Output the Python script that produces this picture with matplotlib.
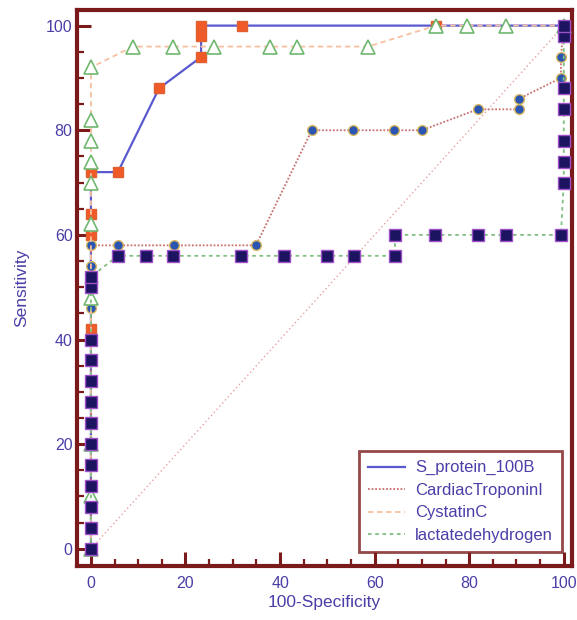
import matplotlib.pyplot as plt

plt.rcParams['font.family'] = ['Liberation Sans', 'DejaVu Sans']

# S_protein_100B
s100_x = [0, 0, 0, 0, 0, 5.7, 14.4, 23.3, 23.3, 23.3, 31.9, 73, 100]
s100_y = [0, 42, 60, 64, 72, 72, 88, 94, 98, 100, 100, 100, 100]

# CardiacTroponinI
ctni_x = [0, 0, 0, 0, 0, 5.7, 17.5, 34.9, 46.7, 55.4, 64.2, 70, 81.8, 90.5, 90.5, 99.4, 99.4, 100]
ctni_y = [0, 46, 50, 54, 58, 58, 58, 58, 80, 80, 80, 80, 84, 84, 86, 90, 94, 100]

# CystatinC
cys_x = [0, 0, 0, 0, 0, 0, 0, 0, 0, 0, 8.9, 17.3, 26, 37.8, 43.6, 58.6, 73, 79.5, 87.7, 100]
cys_y = [0, 10, 20, 48, 62, 70, 74, 78, 82, 92, 96, 96, 96, 96, 96, 96, 100, 100, 100, 100]

# lactatedehydrogen
ldh_x = [0] * 13 + [5.7, 11.6, 17.3, 31.7, 40.8, 49.9, 55.6, 64.3, 64.3, 72.7, 81.8, 87.7, 99.4,
                    100, 100, 100, 100, 100, 100, 100]
ldh_y = [0, 4, 8, 12, 16, 20, 24, 28, 32, 36, 40, 50, 52,
         56, 56, 56, 56, 56, 56, 56, 56, 60, 60, 60, 60, 60,
         70, 74, 78, 84, 88, 98, 100]

maroon = '#7a1a1a'
txt = '#4a3fa8'

fig = plt.figure(figsize=(5.77, 6.2), dpi=100)
ax = fig.add_axes([0.133, 0.087, 0.858, 0.897])

ax.plot([0, 100], [0, 100], color='#e8a0a0', linestyle=(0, (1, 2)), linewidth=1, zorder=1)

ax.plot(s100_x, s100_y, color='#5a5ad0', linewidth=1.6, marker='s', markersize=7.5,
        markerfacecolor='#f05a28', markeredgecolor='#e06030', label='S_protein_100B', zorder=3)
ax.plot(ctni_x, ctni_y, color='#c87070', linewidth=1.3, linestyle=(0, (1, 1)), marker='o',
        markersize=7, markerfacecolor='#2a55b0', markeredgecolor='#d8b860', label='CardiacTroponinI',
        zorder=4)
ax.plot(cys_x, cys_y, color='#f8c0a0', linewidth=1.3, linestyle=(0, (3, 2)), marker='^',
        markersize=10, markerfacecolor='white', markeredgecolor='#70b870', markeredgewidth=1.2,
        label='CystatinC', zorder=5)
ax.plot(ldh_x, ldh_y, color='#80c080', linewidth=1.3, linestyle=(0, (2, 2)), marker='s',
        markersize=8, markerfacecolor='#1c1460', markeredgecolor='#a050c8', label='lactatedehydrogen',
        zorder=6)

ax.set_xlim(-3, 101.7)
ax.set_ylim(-3.3, 103)
ax.set_xticks(range(0, 101, 20))
ax.set_yticks(range(0, 101, 20))
ax.set_xticks(range(0, 101, 5), minor=True)
ax.set_yticks(range(0, 101, 5), minor=True)
ax.tick_params(which='major', direction='in', length=10, width=2.2, color=maroon,
               labelcolor=txt, labelsize=11.5)
ax.tick_params(axis='x', which='major', pad=7)
ax.tick_params(axis='y', which='major', pad=3)
ax.tick_params(which='minor', direction='in', length=5, width=1.6, color=maroon)
for s in ax.spines.values():
    s.set_color(maroon)
    s.set_linewidth(3)

ax.set_xlabel('100-Specificity', color=txt, fontsize=12.5, labelpad=3)
ax.set_ylabel('Sensitivity', color=txt, fontsize=12.5, labelpad=12)

leg = ax.legend(loc='lower right', bbox_to_anchor=(0.98, 0.025), borderaxespad=0,
                fontsize=12, frameon=True, fancybox=False, handlelength=2.2,
                handletextpad=0.6, labelspacing=0.45, borderpad=0.55)
leg.get_frame().set_edgecolor(maroon)
leg.get_frame().set_linewidth(2)
for h in leg.get_lines():
    h.set_marker('')
for t in leg.get_texts():
    t.set_color(txt)

fig.savefig('out.png', dpi=100)
